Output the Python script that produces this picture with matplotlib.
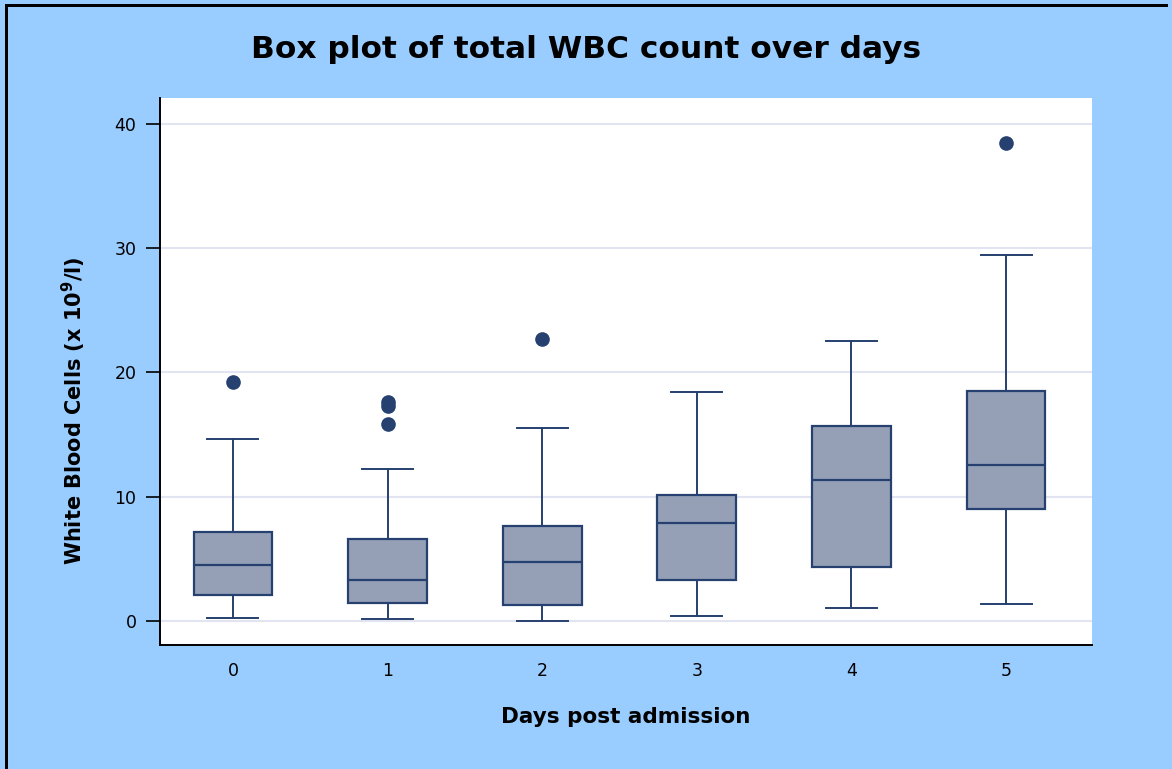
import matplotlib.pyplot as plt
from matplotlib.patches import Rectangle

plt.rcParams['font.family'] = ['DejaVu Sans']
plt.rcParams['mathtext.fontset'] = 'dejavusans'

days = [0, 1, 2, 3, 4, 5]
q1 = [2.07, 1.45, 1.32, 3.30, 4.32, 8.99]
med = [4.48, 3.27, 4.75, 7.91, 11.35, 12.56]
q3 = [7.16, 6.57, 7.65, 10.17, 15.69, 18.54]
whislo = [0.27, 0.13, 0.0, 0.43, 1.02, 1.34]
whishi = [14.62, 12.26, 15.53, 18.41, 22.56, 29.46]
fliers = [[19.26], [17.65, 17.3, 15.85], [22.7], [], [], [38.5]]

bg = '#99CCFF'
navy = '#26406F'
fill = '#95A0B7'

stats = []
for i in range(len(days)):
	stats.append({'med': med[i], 'q1': q1[i], 'q3': q3[i],
		'whislo': whislo[i], 'whishi': whishi[i],
		'fliers': fliers[i], 'label': str(days[i])})

fig = plt.figure(figsize=(11.72, 7.69), dpi=100, facecolor=bg)
ax = fig.add_axes([160/1172, 1-645/769, (1092-160)/1172, (645-98)/769])
ax.set_facecolor('white')

ax.bxp(stats, positions=days, widths=0.51, patch_artist=True,
	boxprops=dict(facecolor=fill, edgecolor=navy, linewidth=1.6),
	medianprops=dict(color=navy, linewidth=1.6),
	whiskerprops=dict(color=navy, linewidth=1.4),
	capprops=dict(color=navy, linewidth=1.4), capwidths=0.33,
	flierprops=dict(marker='o', markerfacecolor=navy, markeredgecolor=navy, markersize=9.5))

ax.set_xlim(-0.472, 5.556)
ax.set_ylim(-1.93, 42.09)
ax.set_yticks([0, 10, 20, 30, 40])
ax.yaxis.grid(True, color='#E2E5F1', linewidth=1.5)
ax.set_axisbelow(True)
for s in ['top', 'right']:
	ax.spines[s].set_visible(False)
ax.spines['left'].set_linewidth(1.4)
ax.spines['bottom'].set_linewidth(1.4)
ax.tick_params(axis='y', length=10, width=1.2, labelsize=12.5, pad=7)
ax.tick_params(axis='x', length=0, labelsize=12.5, pad=12)

ax.set_xlabel('Days post admission', fontsize=15.5, fontweight='bold', labelpad=20)
ax.set_ylabel('White Blood Cells (x 10$^\\mathbf{9}$/l)', fontsize=15, fontweight='bold')
ax.yaxis.set_label_coords(-0.0773, 0.428)
fig.text(0.5, 1-50/769, 'Box plot of total WBC count over days', ha='center', va='center',
	fontsize=22.5, fontweight='bold')

# black frame along top and left edges
fig.add_artist(Rectangle((5/1172, 1-7/769), 1163/1172, 3/769, transform=fig.transFigure,
	facecolor='black', edgecolor='none'))
fig.add_artist(Rectangle((5/1172, 0), 3/1172, 1-4/769, transform=fig.transFigure,
	facecolor='black', edgecolor='none'))

fig.savefig('out.png', dpi=100, facecolor=bg)
